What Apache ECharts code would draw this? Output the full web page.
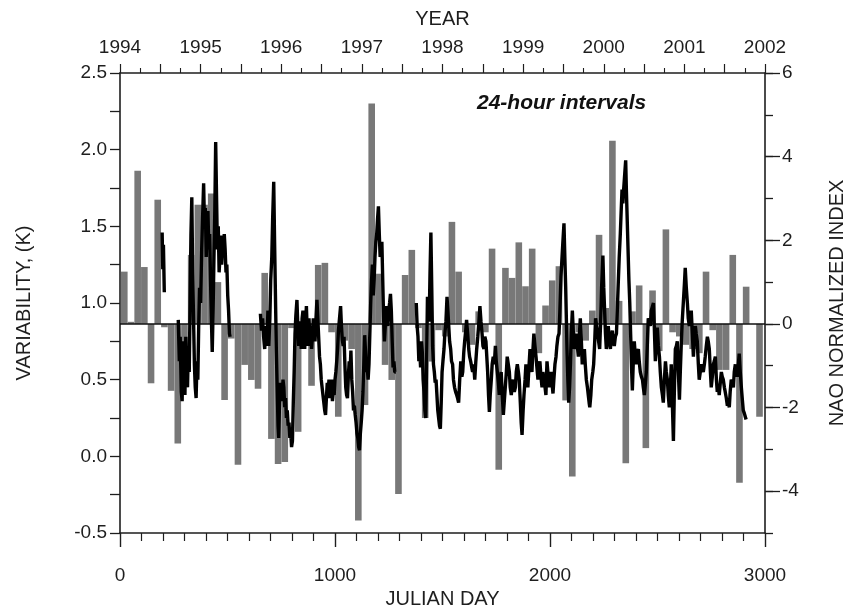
<!DOCTYPE html>
<html>
<head>
<meta charset="utf-8">
<script src="https://cdn.jsdelivr.net/npm/echarts@6/dist/echarts.min.js"></script>
<style>
html,body{margin:0;padding:0;background:#fff;}
#chart{width:855px;height:606px;}
</style>
</head>
<body>
<div id="chart"></div>
<script>
// ---- Data ----
// Monthly NAO normalized index (bars), Jan 1994 .. Dec 2001
const naoValues = [
  1.25, 0.05, 3.66, 1.36, -1.42, 2.97, -0.08, -1.6, -2.86, -0.6, 1.65, 2.85,
  2.85, 3.12, 1.0, -1.82, -0.35, -3.37, -0.98, -1.34, -1.55, 1.22, -2.75, -3.35,
  -3.3, -0.1, -2.58, -0.5, -1.48, 1.41, 1.46, -0.2, -2.22, -0.4, -0.6, -4.7,
  -1.94, 5.27, 1.2, -0.98, -1.34, -4.07, 1.17, 1.77, -0.1, -2.25, -0.9, -0.15,
  -0.3, 2.44, 1.25, -0.2, -0.5, 0.3, -0.2, 1.8, -3.49, 1.34, 1.1, 1.95,
  0.9, 1.8, -0.7, 0.44, 1.04, 1.38, -1.83, -3.65, -0.2, -0.4, 0.32, 2.13,
  0.38, 4.38, 0.55, -3.33, 0.3, 0.92, -2.97, 0.8, -0.65, 2.26, -0.2, -0.3,
  -0.5, -0.6, -0.7, 1.25, -0.15, -1.1, -1.1, 1.65, -3.8, 0.89, 0, -2.22
];
const monthLengthDays = 31.1;   // spacing of the monthly bars along the Julian-day axis
const firstMonthCenterDay = 20;

// Variability (K), 24-hour intervals: [julian day, value]; null = gap in record
const varDays = [
  196,199,202,206,230,
  271,276,280,285,289,293,298,302,306,310,314,318,322,326,330,334,338,342,346,350,354,358,362,366,370,375,380,384,389,393,397,401,405,409,413,417,421,425,429,433,437,441,445,449,453,457,461,465,469,473,477,481,485,489,493,497,501,505,509,512,
  580,
  653,658,663,668,673,678,683,688,692,697,701,706,710,715,719,723,727,731,735,738,742,746,750,754,758,762,766,770,774,778,782,786,790,794,798,802,806,810,814,818,823,827,831,835,839,843,847,851,855,859,863,867,871,875,879,883,887,891,895,899,903,907,911,916,920,924,928,932,936,940,944,948,952,956,960,964,968,972,976,980,984,988,992,996,1000,1004,1008,1012,1016,1021,1026,1030,1034,1038,1042,1046,1050,1054,1058,1062,1066,1070,1074,1078,1082,1086,1090,1094,1098,1102,1106,1110,1114,1118,1122,1126,1130,1134,1138,1142,1146,1150,1154,1158,1162,1166,1170,1174,1178,1182,1186,1190,1194,1198,1202,1206,1210,1214,1218,1222,1226,1230,1234,1238,1242,1246,1250,1254,1258,1262,1266,1270,1274,1278,1283,
  1330,
  1378,1382,1386,1390,1394,1398,1402,1406,1410,1414,1418,1422,1426,1430,1434,1438,1442,1446,1450,1454,1458,1462,1466,1470,1474,1478,1482,1486,1490,1494,1498,1502,1507,1511,1516,1521,1525,1529,1533,1538,1542,1547,1551,1556,1561,1566,1570,1575,1580,1585,1590,1594,1599,1603,1608,1612,1617,1622,1626,1631,1636,1640,1645,1650,1655,1659,1664,1668,1674,1679,1684,1688,1693,1697,1702,1706,1710,1714,1718,1722,1727,1731,1736,1741,1746,1750,1755,1760,1764,1769,1773,1778,1783,1787,1792,1797,1801,1806,1811,1815,1820,1825,1829,1834,1839,1843,1848,1853,1857,1862,1866,1870,1875,1879,1884,1888,1893,1897,1902,1907,1911,1916,1920,1925,1930,1935,1939,1944,1948,1953,1958,1963,1967,1972,1977,1981,1986,1990,1995,2000,2005,2009,2014,2018,2023,2028,2032,2037,2042,2046,2051,2056,2060,2065,2069,2073,2076,2079,2083,2087,2091,2095,2099,2104,2108,2113,2118,2123,2127,2132,2136,2141,2146,2150,2155,2160,2164,2169,2174,2178,2182,2185,2190,2194,2199,2203,2208,2212,2217,2222,2226,2231,2236,2240,2243,2246,2250,2254,2258,2262,2267,2271,2276,2281,2285,2290,2294,2299,2304,2309,2313,2318,2322,2327,2331,2335,2339,2343,2348,2352,2355,2358,2361,2364,2367,2371,2374,2377,2380,2383,2387,2392,2397,2402,2406,2411,2415,2420,2425,2430,2434,2439,2444,2448,2452,2457,2462,2467,2471,2476,2481,2485,2490,2495,2499,2504,2509,2513,2518,2523,2527,2532,2537,2541,2546,2550,2555,2560,2564,2569,2574,2578,2583,2588,2592,2597,2602,2606,2611,2615,2620,2625,2629,2634,2639,2643,2648,2652,2657,2662,2667,2671,2676,2680,2685,2690,2694,2699,2704,2708,2713,2718,2722,2727,2732,2736,2741,2746,2750,2755,2760,2764,2769,2774,2778,2783,2787,2792,2797,2801,2806,2811,2815,2820,2825,2829,2834,2838,2843,2848,2853,2857,2862,2866,2871,2876,2880,2885,2890,2894,2899,2904,2908,2912
];
const varValues = [
  1.46,1.22,1.38,1.07,null,
  0.89,0.62,0.78,0.42,0.36,0.75,0.5,0.40,0.78,0.6,0.45,0.72,0.55,1.0,1.45,1.69,1.2,0.9,0.6,0.45,0.38,0.62,0.5,0.85,1.1,1.0,1.35,1.55,1.78,1.5,1.62,1.3,1.5,1.6,1.35,1.45,1.15,0.9,0.68,0.95,1.3,1.6,2.05,1.7,1.35,1.5,1.2,1.3,1.44,1.25,1.38,1.3,1.45,1.35,1.2,1.25,1.05,0.95,0.8,0.78,
  null,
  0.93,0.82,0.9,0.78,0.7,0.85,0.72,0.95,0.72,0.9,1.15,1.3,1.55,1.79,1.4,1.05,0.7,0.45,0.2,0.12,0.35,0.48,0.4,0.36,0.5,0.45,0.32,0.38,0.25,0.3,0.2,0.22,0.12,0.15,0.06,0.1,0.35,0.55,0.8,0.92,1.02,0.85,0.72,0.88,0.8,0.7,0.9,0.95,0.8,0.7,0.85,0.98,0.8,0.72,0.9,0.78,0.85,0.7,0.78,0.9,0.8,0.75,0.88,1.02,0.9,0.78,0.65,0.6,0.5,0.45,0.4,0.35,0.3,0.27,0.38,0.48,0.42,0.5,0.38,0.45,0.5,0.36,0.42,0.4,0.5,0.55,0.62,0.7,0.82,0.9,0.98,0.85,0.76,0.72,0.78,0.6,0.45,0.4,0.38,0.52,0.62,0.55,0.69,0.5,0.42,0.3,0.33,0.27,0.22,0.15,0.12,0.06,0.04,0.15,0.22,0.3,0.42,0.6,0.79,0.68,0.55,0.58,0.5,0.6,0.8,1.0,1.15,1.25,1.05,1.15,1.3,1.4,1.45,1.55,1.63,1.45,1.3,1.35,1.4,1.15,0.9,0.75,0.85,0.98,0.9,0.85,0.95,1.0,1.06,0.95,0.75,0.58,0.62,0.55,0.55,
  null,
  1.0,0.85,0.78,0.62,0.7,0.58,0.75,0.68,0.5,0.42,0.3,0.25,0.6,1.04,0.92,0.88,1.2,1.46,1.1,0.72,0.6,0.55,0.48,0.5,0.4,0.3,0.25,0.2,0.18,0.35,0.55,0.62,0.7,0.8,0.88,1.04,0.95,0.85,0.75,0.7,0.62,0.6,0.5,0.45,0.42,0.4,0.38,0.35,0.5,0.62,0.52,0.55,0.68,0.75,0.82,0.89,0.8,0.7,0.65,0.62,0.58,0.55,0.6,0.5,0.62,0.7,0.78,0.85,0.98,0.88,0.8,0.72,0.7,0.78,0.75,0.65,0.55,0.4,0.29,0.4,0.5,0.6,0.65,0.6,0.72,0.62,0.55,0.48,0.4,0.5,0.55,0.4,0.27,0.35,0.45,0.55,0.65,0.6,0.55,0.45,0.4,0.48,0.5,0.42,0.45,0.55,0.6,0.55,0.5,0.35,0.22,0.14,0.3,0.4,0.5,0.6,0.52,0.45,0.58,0.7,0.62,0.55,0.68,0.8,0.72,0.65,0.58,0.5,0.55,0.62,0.52,0.45,0.55,0.5,0.45,0.4,0.62,0.55,0.45,0.5,0.55,0.48,0.41,0.5,0.6,0.65,0.72,0.78,0.8,0.95,1.17,1.3,1.4,1.52,1.3,1.1,0.9,0.7,0.5,0.35,0.45,0.6,0.8,0.95,0.82,0.7,0.75,0.8,0.72,0.65,0.78,0.9,0.75,0.6,0.65,0.7,0.6,0.5,0.45,0.4,0.35,0.32,0.4,0.5,0.55,0.6,0.75,0.9,0.85,0.8,0.75,0.7,0.9,1.1,1.2,1.31,1.1,0.95,0.8,0.7,0.78,0.85,0.75,0.7,0.78,0.82,0.75,0.72,0.78,0.8,0.95,1.15,1.3,1.45,1.6,1.74,1.65,1.75,1.85,1.93,1.75,1.6,1.45,1.3,1.15,1.0,0.85,0.7,0.55,0.43,0.6,0.75,0.65,0.6,0.68,0.7,0.62,0.55,0.52,0.5,0.45,0.4,0.48,0.55,0.7,0.9,0.88,0.85,0.95,0.95,1.0,0.85,0.62,0.75,0.84,0.72,0.65,0.55,0.45,0.4,0.35,0.5,0.62,0.55,0.5,0.4,0.32,0.45,0.6,0.35,0.1,0.4,0.7,0.72,0.75,0.55,0.37,0.55,0.75,0.88,1.0,1.12,1.23,1.1,1.0,0.9,0.85,0.9,0.95,0.8,0.65,0.75,0.85,0.8,0.75,0.6,0.5,0.55,0.6,0.58,0.55,0.6,0.65,0.72,0.78,0.75,0.7,0.55,0.45,0.52,0.6,0.62,0.65,0.5,0.42,0.45,0.4,0.48,0.55,0.52,0.5,0.45,0.42,0.38,0.33,0.35,0.32,0.42,0.5,0.48,0.45,0.55,0.6,0.55,0.52,0.6,0.67,0.55,0.45,0.38,0.3,0.28,0.26,0.24
];

// Axis tick labels
const leftTickLabels = ['-0.5','0.0','0.5','1.0','1.5','2.0','2.5'];
const rightTickLabels = ['-4','-2','0','2','4','6'];
const yearLabels = ['1994','1995','1996','1997','1998','1999','2000','2001','2002'];
const dayLabels = ['0','1000','2000','3000'];

// ---- Build ----
const FONT = "'Liberation Sans Narrow','Liberation Sans',Arial,sans-serif";
const TXT = '#1e1e1e';
const AX = '#1e1e1e';
const barData = naoValues.map((v, i) => [firstMonthCenterDay + monthLengthDays * i, v]);
const lineData = varDays.map((d, i) => [d, varValues[i]]);

function axLine() { return { show: true, onZero: false, lineStyle: { color: AX, width: 1.6 } }; }

const chart = echarts.init(document.getElementById('chart'), null, { renderer: 'canvas' });
chart.setOption({
  animation: false,
  backgroundColor: '#ffffff',
  textStyle: { fontFamily: FONT, color: TXT },
  grid: { left: 120, right: 90, top: 73, bottom: 73, containLabel: false, outerBoundsMode: 'none' },
  graphic: [{
    type: 'text',
    left: 477, top: 93,
    style: { text: '24-hour intervals', font: "italic bold 21px 'Liberation Sans', Arial, sans-serif", fill: '#111' }
  }],
  xAxis: [{
    type: 'value', position: 'bottom', min: 0, max: 3000, interval: 1000,
    axisLine: axLine(),
    axisTick: { show: true, length: 14, lineStyle: { color: AX, width: 1.4 } },
    minorTick: { show: true, splitNumber: 10, length: 8, lineStyle: { color: AX, width: 1.2 } },
    splitLine: { show: false },
    axisLabel: { margin: 33, fontSize: 19, color: TXT, fontFamily: FONT,
      formatter: v => dayLabels.includes(String(v)) ? String(v) : '' },
    name: 'JULIAN DAY', nameLocation: 'middle', nameGap: 51,
    nameTextStyle: { fontSize: 20, color: TXT, fontFamily: FONT }
  }, {
    type: 'value', position: 'top', min: 1994, max: 2002, interval: 0.5,
    axisLine: axLine(),
    axisTick: { show: true, length: 9, lineStyle: { color: AX, width: 1.2 } },
    minorTick: { show: true, splitNumber: 2, length: 5, lineStyle: { color: AX, width: 1.1 } },
    splitLine: { show: false },
    axisLabel: { margin: 16, fontSize: 19, color: TXT, fontFamily: FONT,
      formatter: v => yearLabels.includes(String(v)) ? String(v) : '' },
    name: 'YEAR', nameLocation: 'middle', nameGap: 44,
    nameTextStyle: { fontSize: 20, color: TXT, fontFamily: FONT }
  }],
  yAxis: [{
    type: 'value', position: 'left', min: -0.5, max: 2.5, interval: 0.25,
    axisLine: axLine(),
    axisTick: { show: true, length: 10, lineStyle: { color: AX, width: 1.3 } },
    splitLine: { show: false },
    axisLabel: { margin: 13, fontSize: 19, color: TXT, fontFamily: FONT,
      formatter: v => { const s = v.toFixed(1); return (Math.abs(v * 2 - Math.round(v * 2)) < 1e-6 && leftTickLabels.includes(s)) ? s : ''; } },
    name: 'VARIABILITY, (K)', nameLocation: 'middle', nameGap: 86, nameRotate: 90,
    nameTextStyle: { fontSize: 20, color: TXT, fontFamily: FONT }
  }, {
    type: 'value', position: 'right', min: -5, max: 6, interval: 1,
    axisLine: axLine(),
    axisTick: { show: true, length: 8, lineStyle: { color: AX, width: 1.3 } },
    splitLine: { show: false },
    axisLabel: { margin: 17, fontSize: 19, color: TXT, fontFamily: FONT,
      formatter: v => rightTickLabels.includes(String(v)) ? String(v) : '' },
    name: 'NAO NORMALIZED INDEX', nameLocation: 'middle', nameGap: 62, nameRotate: 90,
    nameTextStyle: { fontSize: 20, color: TXT, fontFamily: FONT }
  }, {
    type: 'value', position: 'right', min: -5, max: 6, interval: 1,
    axisLine: { show: false, onZero: false },
    axisTick: { show: true, length: 15, customValues: [-4, -2, 0, 2, 4, 6], lineStyle: { color: AX, width: 1.3 } },
    splitLine: { show: false },
    axisLabel: { show: false }
  }],
  series: [{
    name: 'NAO', type: 'bar', xAxisIndex: 0, yAxisIndex: 1,
    data: barData, barWidth: 6.6,
    itemStyle: { color: '#787878' },
    z: 2,
    markLine: {
      silent: true, symbol: 'none', label: { show: false },
      lineStyle: { color: '#111', width: 1.6, type: 'solid' },
      data: [{ yAxis: 0 }]
    }
  }, {
    name: 'Variability', type: 'line', xAxisIndex: 0, yAxisIndex: 0,
    data: lineData, showSymbol: false, connectNulls: false, smooth: false,
    lineStyle: { color: '#000', width: 3.4 },
    z: 5
  }]
});
</script>
</body>
</html>
